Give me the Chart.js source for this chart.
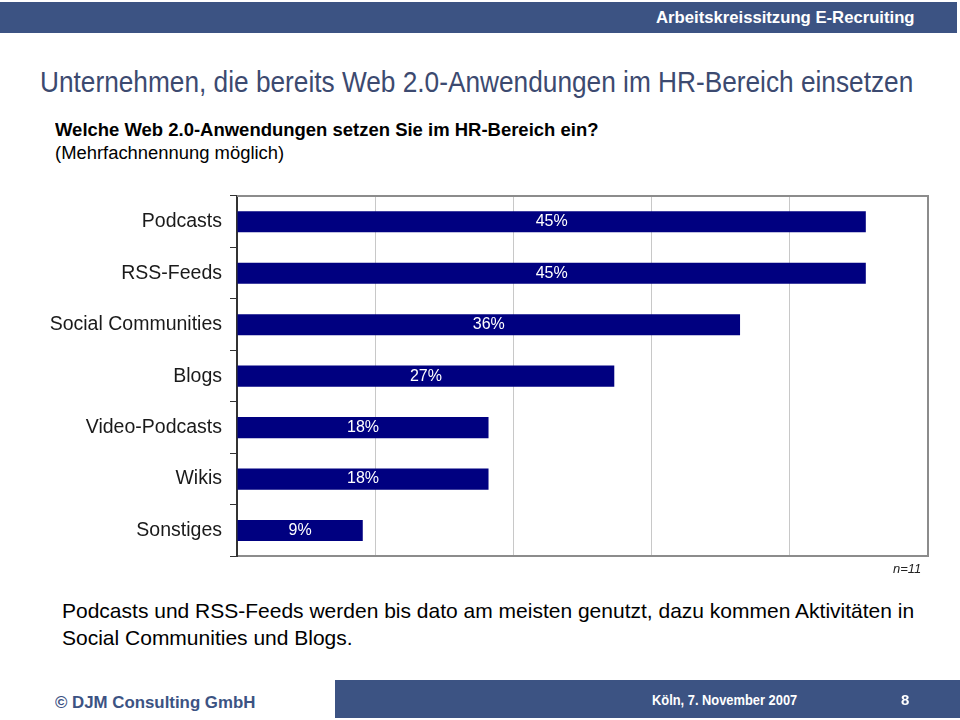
<!DOCTYPE html>
<html>
<head>
<meta charset="utf-8">
<script src="https://cdn.jsdelivr.net/npm/chart.js@4.4.0/dist/chart.umd.min.js"></script>
<style>
    body { margin: 0; width: 960px; height: 720px; background: #fff; position: relative; overflow: hidden; font-family: "Liberation Sans", Arial, sans-serif; }
    .abs { position: absolute; white-space: nowrap; }
    .fit { transform-origin: 0 0; }
    #top_bar { left: 0; top: 2px; width: 957px; height: 31px; background: #3c5383; }
    #top_text { left: 656px; top: 8px; color: #fff; font: bold 17px "Liberation Sans", Arial; }
    #title { left: 40px; top: 65px; color: #3c4a70; font: 30px "Liberation Sans", Arial; }
    #question { left: 55px; top: 120px; font: bold 18px "Liberation Sans", Arial; color: #000; }
    #question_sub { left: 55px; top: 143px; font: 18px "Liberation Sans", Arial; color: #000; }
    #chart_box { left: 0; top: 176px; width: 960px; height: 400px; }
    #n_text { left: 893px; top: 561px; font: italic 13px "Liberation Sans", Arial; color: #222; }
    #summary { left: 62px; top: 597px; font: 21px "Liberation Sans", Arial; color: #000; line-height: 27px; }
    #copy { left: 55px; top: 693px; font: bold 17px "Liberation Sans", Arial; color: #3c5383; }
    #bottom_bar { left: 335px; top: 680px; width: 625px; height: 38px; background: #3c5383; }
    #bottom_date { left: 652px; top: 691px; color: #fff; font: bold 15px "Liberation Sans", Arial; }
    #bottom_page { left: 901px; top: 691px; color: #fff; font: bold 15px "Liberation Sans", Arial; }
</style>
</head>
<body>
<div id="top_bar" class="abs"></div>
<div id="top_text" class="abs fit">Arbeitskreissitzung E-Recruiting</div>
<div id="title" class="abs fit">Unternehmen, die bereits Web 2.0-Anwendungen im HR-Bereich einsetzen</div>
<div id="question" class="abs fit">Welche Web 2.0-Anwendungen setzen Sie im HR-Bereich ein?</div>
<div id="question_sub" class="abs fit">(Mehrfachnennung möglich)</div>
<div id="chart_box" class="abs"><canvas id="chart"></canvas></div>
<div id="n_text" class="abs">n=11</div>
<div id="summary" class="abs">Podcasts und RSS-Feeds werden bis dato am meisten genutzt, dazu kommen Aktivitäten in<br>Social Communities und Blogs.</div>
<div id="copy" class="abs fit">© DJM Consulting GmbH</div>
<div id="bottom_bar" class="abs"></div>
<div id="bottom_date" class="abs fit">Köln, 7. November 2007</div>
<div id="bottom_page" class="abs">8</div>

<script>
var categories = ["Podcasts", "RSS-Feeds", "Social Communities", "Blogs", "Video-Podcasts", "Wikis", "Sonstiges"];
var values = [45.5, 45.5, 36.4, 27.3, 18.2, 18.2, 9.1];
var value_labels = ["45%", "45%", "36%", "27%", "18%", "18%", "9%"];
var x_ticks = [0, 10, 20, 30, 40, 50];

//the slide uses a narrow font, so squeeze the text blocks to the widths of the original
function fit_text(id, width) {
    var el = document.getElementById(id);
    el.style.transform = "scaleX(" + (width / el.offsetWidth) + ")";
}
fit_text("top_text", 259);
fit_text("title", 873);
fit_text("question", 543);
fit_text("question_sub", 229);
fit_text("copy", 200);
fit_text("bottom_date", 145);

//draws the percentage labels inside the bars and the grey frame round the plot area
var bar_labels = {
    id: "bar_labels",
    beforeDatasetsDraw: function(chart) {
        var ctx = chart.ctx;
        var area = chart.chartArea;
        ctx.save();
        ctx.strokeStyle = "#8c8c8c";
        ctx.lineWidth = 2;
        ctx.beginPath();
        ctx.moveTo(area.left, area.top);
        ctx.lineTo(area.right, area.top);
        ctx.lineTo(area.right, area.bottom);
        ctx.stroke();
        ctx.restore();
    },
    afterDatasetsDraw: function(chart) {
        var ctx = chart.ctx;
        var bars = chart.getDatasetMeta(0).data;
        ctx.save();
        ctx.fillStyle = "#ffffff";
        ctx.font = "16px 'Liberation Sans', Arial";
        ctx.textAlign = "center";
        ctx.textBaseline = "middle";
        for (var i = 0; i < bars.length; i++) {
            ctx.fillText(value_labels[i], (bars[i].x + bars[i].base) / 2, bars[i].y);
        }
        ctx.restore();
    }
};

var chart = new Chart(document.getElementById("chart"), {
    type: "bar",
    data: {
        labels: categories,
        datasets: [{
            data: values,
            backgroundColor: "#000080",
            borderWidth: 0,
            barPercentage: 0.41,
            categoryPercentage: 1
        }]
    },
    plugins: [bar_labels],
    options: {
        indexAxis: "y",
        responsive: true,
        maintainAspectRatio: false,
        animation: false,
        layout: { padding: { top: 20, right: 32, bottom: 10, left: 0 } },
        plugins: {
            legend: { display: false },
            tooltip: { enabled: false }
        },
        scales: {
            x: {
                min: x_ticks[0],
                max: x_ticks[x_ticks.length - 1],
                afterBuildTicks: function(scale) {
                    scale.ticks = x_ticks.map(function(v) { return { value: v }; });
                },
                ticks: { display: false },
                grid: { color: "#c8c8c8", lineWidth: 1, drawTicks: false },
                border: { display: true, color: "#8c8c8c", width: 2 },
                afterFit: function(scale) { scale.height = 0; }
            },
            y: {
                grid: { offset: true, drawOnChartArea: false, drawTicks: true, tickLength: 7, color: "#333333" },
                border: { display: true, color: "#333333", width: 2 },
                ticks: {
                    color: "#1a1a1a",
                    padding: 8,
                    font: { family: "'Liberation Sans', Arial", size: 19.5 }
                },
                afterFit: function(scale) { scale.width = 237; }
            }
        }
    }
});
</script>
</body>
</html>
